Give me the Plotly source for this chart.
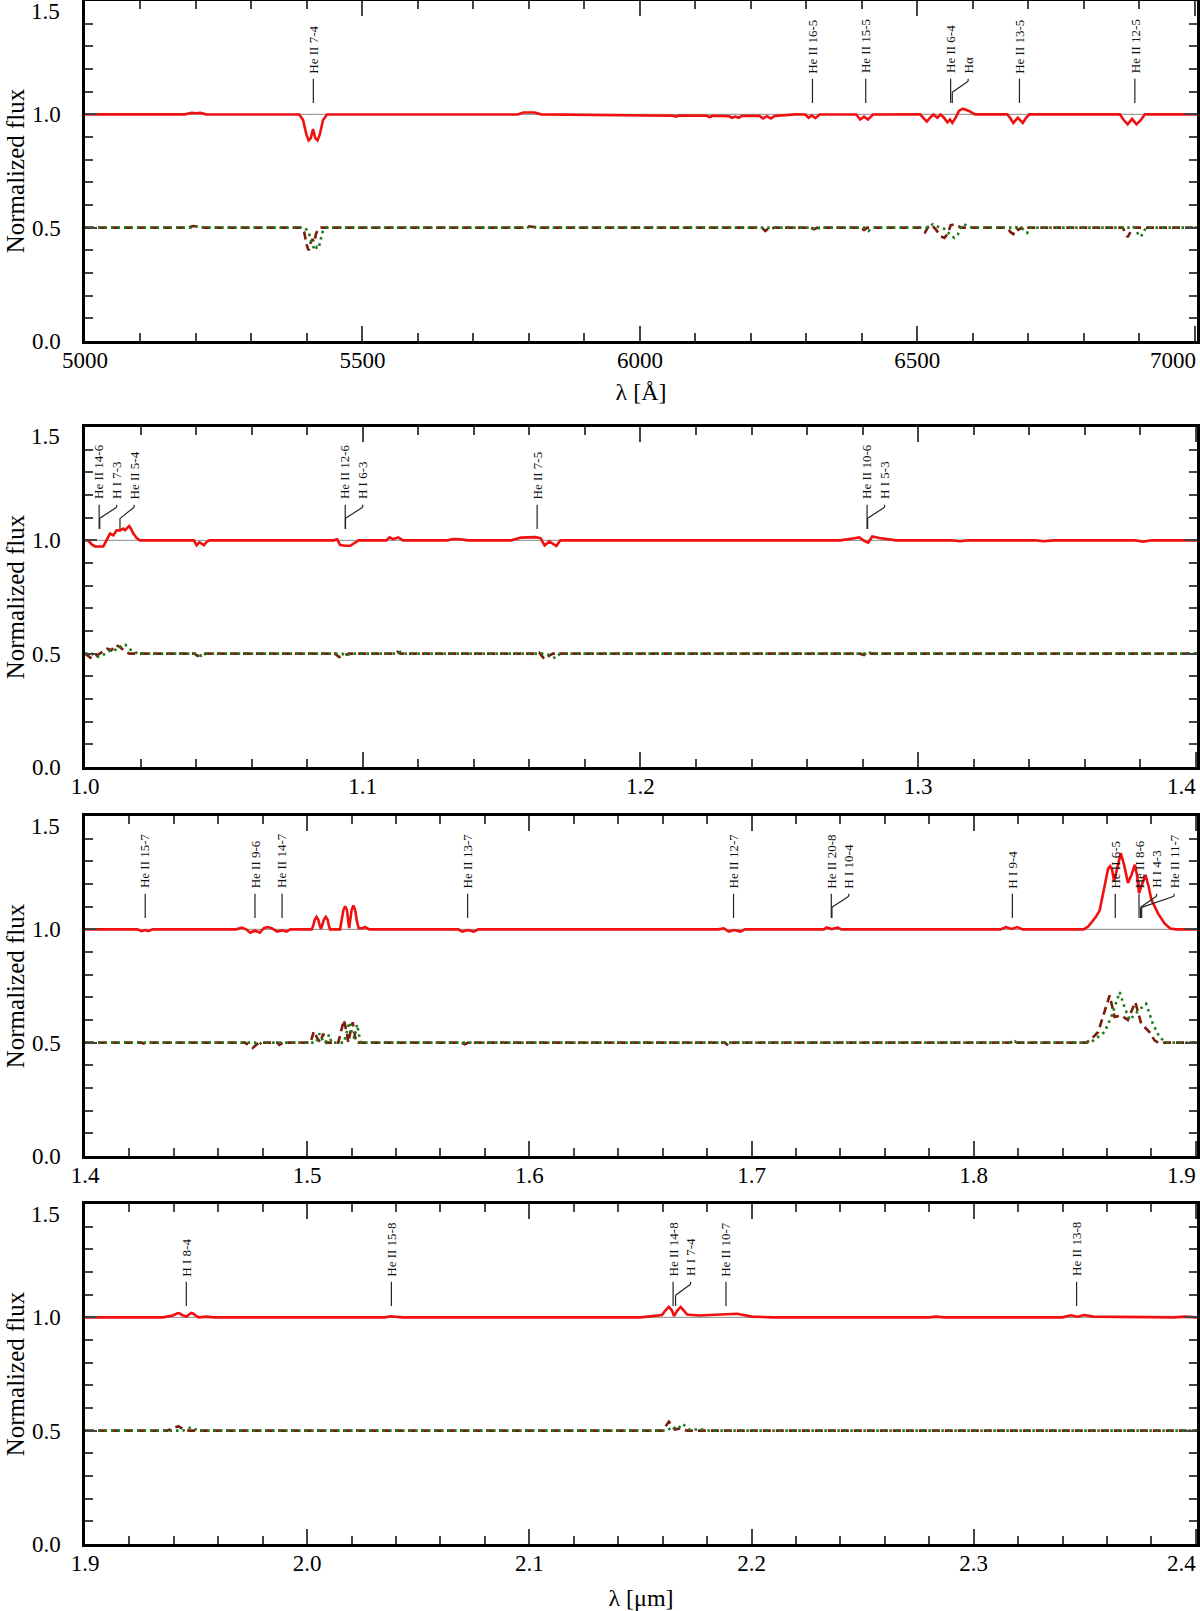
import plotly.graph_objects as go

# ---------------- data ----------------
# Panel 1: optical, wavelength in Angstrom
P1_RED_WAVE = [5000, 5180, 5192, 5200, 5208, 5218, 5386, 5393, 5399, 5403, 5407, 5411, 5415, 5419, 5423, 5429, 5436,
               5780, 5790, 5800, 5810, 5822, 5900, 6000, 6060, 6065, 6070, 6120, 6126, 6132, 6160, 6166, 6172, 6178,
               6184, 6215, 6222, 6229, 6236, 6243, 6260, 6280, 6298, 6304, 6310, 6316, 6324, 6390, 6397, 6404, 6411,
               6420, 6505, 6511, 6517, 6523, 6529, 6536, 6542, 6548, 6554, 6559, 6563, 6569, 6575, 6582, 6592, 6604,
               6662, 6667, 6673, 6681, 6690, 6696, 6702, 6865, 6872, 6879, 6887, 6895, 6903, 6910, 7004]
P1_RED_FLUX = [1.0, 1.0, 1.007, 1.005, 1.007, 1.0, 0.999, 0.975, 0.91, 0.885, 0.895, 0.935, 0.895, 0.885, 0.91, 0.975, 0.999,
               0.999, 1.008, 1.007, 1.008, 1.0, 0.997, 0.995, 0.994, 0.99, 0.995, 0.994, 0.988, 0.994, 0.992, 0.985, 0.99, 0.985,
               0.993, 0.994, 0.982, 0.992, 0.982, 0.993, 0.997, 1.0, 0.999, 0.985, 0.995, 0.983, 0.999, 0.999, 0.977, 0.99, 0.977,
               0.999, 1.0, 0.985, 0.968, 0.985, 0.999, 0.985, 0.999, 0.985, 0.965, 0.977, 0.962, 0.985, 1.015, 1.025, 1.016, 1.0,
               1.0, 0.985, 0.962, 0.985, 0.962, 0.985, 1.0, 1.0, 0.975, 0.956, 0.98, 0.956, 0.975, 1.0, 1.0]
P1_BROWN_WAVE = [5000, 5185, 5195, 5205, 5215, 5388, 5395, 5400, 5403, 5406, 5410, 5413, 5416, 5420, 5425, 5790, 5800, 5815,
                 6220, 6226, 6232, 6236, 6242, 6308, 6314, 6320, 6398, 6404, 6410, 6505, 6510, 6514, 6520, 6526, 6534, 6542,
                 6549, 6555, 6560, 6566, 6574, 6580, 6662, 6668, 6673, 6678, 6682, 6688, 6870, 6875, 6879, 6884, 6889, 7004]
P1_BROWN_FLUX = [0.5, 0.5, 0.507, 0.503, 0.5, 0.5, 0.48, 0.42, 0.40, 0.43, 0.45, 0.435, 0.47, 0.495, 0.5, 0.5, 0.506, 0.5,
                 0.5, 0.485, 0.497, 0.492, 0.5, 0.5, 0.493, 0.5, 0.5, 0.49, 0.5, 0.5, 0.492, 0.48, 0.505, 0.512, 0.49, 0.462,
                 0.455, 0.475, 0.51, 0.515, 0.505, 0.5, 0.5, 0.48, 0.472, 0.5, 0.49, 0.5, 0.5, 0.475, 0.458, 0.48, 0.5, 0.5]
P1_GREEN_WAVE = [5000, 5190, 5200, 5210, 5220, 5396, 5403, 5409, 5414, 5418, 5421, 5425, 5429, 5434, 5795, 5805, 5820,
                 6310, 6317, 6324, 6405, 6412, 6419, 6520, 6528, 6536, 6545, 6552, 6560, 6567, 6573, 6578, 6584, 6592,
                 6600, 6688, 6693, 6698, 6703, 6893, 6898, 6903, 6908, 6912, 7004]
P1_GREEN_FLUX = [0.5, 0.5, 0.506, 0.503, 0.5, 0.5, 0.48, 0.43, 0.40, 0.415, 0.41, 0.45, 0.49, 0.5, 0.5, 0.505, 0.5,
                 0.5, 0.488, 0.5, 0.5, 0.485, 0.5, 0.5, 0.515, 0.505, 0.5, 0.49, 0.465, 0.455, 0.47, 0.5, 0.515, 0.505,
                 0.5, 0.5, 0.485, 0.477, 0.5, 0.5, 0.47, 0.46, 0.48, 0.5, 0.5]

# Panel 2: 1.0 - 1.4 micron
P2_RED_WAVE = [1.0, 1.0012, 1.0024, 1.0036, 1.0066, 1.0073, 1.0078, 1.009, 1.0102, 1.0114, 1.0126, 1.0138, 1.0144, 1.0159,
               1.0166, 1.0174, 1.0186, 1.0198,
               1.0392, 1.0402, 1.0412, 1.0428, 1.0438, 1.0448, 1.0895, 1.0908, 1.0918, 1.0935, 1.0955, 1.0968, 1.0985,
               1.1085, 1.1097, 1.1108, 1.1128, 1.1145, 1.1305, 1.1325, 1.135, 1.138, 1.1535, 1.157, 1.162, 1.164, 1.1655,
               1.1672, 1.1697, 1.1712, 1.272, 1.2765, 1.2788, 1.2805, 1.282, 1.2835, 1.286, 1.292, 1.312, 1.315, 1.318,
               1.342, 1.345, 1.349, 1.378, 1.381, 1.384, 1.4004]
P2_RED_FLUX = [1.0, 1.0, 0.982, 0.973, 0.973, 0.99, 1.0, 1.03, 1.022, 1.044, 1.044, 1.052, 1.045, 1.063,
               1.05, 1.03, 1.01, 1.0,
               1.0, 0.978, 0.992, 0.978, 0.993, 1.0, 1.0, 1.005, 0.98, 0.976, 0.976, 0.985, 1.0,
               1.0, 1.013, 1.005, 1.013, 1.0, 1.0, 1.006, 1.005, 1.0, 1.0, 1.012, 1.014, 1.01, 0.977,
               0.995, 0.975, 1.0, 1.0, 1.008, 1.013, 0.998, 0.99, 1.017, 1.01, 1.0, 1.0, 0.996, 1.0,
               1.0, 0.996, 1.0, 1.0, 0.994, 1.0, 1.0]
P2_BROWN_WAVE = [1.0, 1.0012, 1.0025, 1.004, 1.0065, 1.008, 1.0095, 1.011, 1.0125, 1.0145, 1.016, 1.0395, 1.0405, 1.042,
                 1.0435, 1.09, 1.0915, 1.093, 1.095, 1.1115, 1.1125, 1.1135, 1.162, 1.1635, 1.1655, 1.167, 1.1685,
                 1.279, 1.2805, 1.2818, 1.283, 1.4004]
P2_BROWN_FLUX = [0.5, 0.49, 0.478, 0.49, 0.51, 0.522, 0.515, 0.538, 0.53, 0.51, 0.5, 0.5, 0.49, 0.495,
                 0.5, 0.5, 0.485, 0.49, 0.5, 0.5, 0.508, 0.5, 0.5, 0.505, 0.475, 0.49, 0.5,
                 0.5, 0.494, 0.508, 0.5, 0.5]
P2_GREEN_WAVE = [1.0, 1.0025, 1.004, 1.006, 1.0085, 1.01, 1.0115, 1.013, 1.0145, 1.016, 1.0175, 1.019, 1.0405, 1.042,
                 1.0435, 1.0925, 1.094, 1.0955, 1.1125, 1.1135, 1.1145, 1.166, 1.168, 1.1695, 1.171, 1.281, 1.2822,
                 1.2835, 1.285, 1.4004]
P2_GREEN_FLUX = [0.5, 0.5, 0.485, 0.49, 0.51, 0.52, 0.515, 0.535, 0.54, 0.52, 0.51, 0.5, 0.5, 0.49,
                 0.5, 0.5, 0.49, 0.5, 0.5, 0.508, 0.5, 0.5, 0.488, 0.48, 0.5, 0.5, 0.508,
                 0.497, 0.5, 0.5]

# Panel 3: 1.4 - 1.9 micron
P3_RED_WAVE = [1.4, 1.4235, 1.4255, 1.427, 1.4285, 1.4305, 1.468, 1.4705, 1.4725, 1.4744, 1.4765, 1.4787, 1.4805, 1.4822,
               1.484, 1.4865, 1.4887, 1.4907, 1.4925, 1.502, 1.5027, 1.5034, 1.5042, 1.505, 1.5057, 1.5062, 1.5067,
               1.5075, 1.5084, 1.5092, 1.5098, 1.5103, 1.5148, 1.5155, 1.5163, 1.5171, 1.5179, 1.5185, 1.5189,
               1.5193, 1.52, 1.5208, 1.5216, 1.5224, 1.5232, 1.525, 1.526, 1.528,
               1.568, 1.5698, 1.5722, 1.575, 1.577, 1.685, 1.6875, 1.6898, 1.6922, 1.695, 1.697, 1.7325, 1.7338,
               1.736, 1.7388, 1.7405, 1.812, 1.8145, 1.817, 1.8196, 1.822, 1.8495, 1.8515, 1.853, 1.855, 1.8567, 1.8582,
               1.8605, 1.8614, 1.8623, 1.8632, 1.8647, 1.8662, 1.8678, 1.8694, 1.871, 1.8725, 1.8735, 1.8744, 1.8758,
               1.8773, 1.8787, 1.88, 1.883, 1.886, 1.8885, 1.891, 1.9005]
P3_RED_FLUX = [1.0, 1.0, 0.992, 0.997, 0.992, 1.0, 1.0, 1.008, 1.0, 0.985, 0.995, 0.985, 1.005, 1.01,
               1.005, 0.99, 0.996, 0.99, 1.0, 1.0, 1.015, 1.042, 1.055, 1.042, 1.015, 1.003, 1.015,
               1.042, 1.055, 1.042, 1.015, 1.0, 1.0, 1.035, 1.085, 1.102, 1.085, 1.035, 1.005,
               1.035, 1.085, 1.105, 1.085, 1.035, 1.005, 1.005, 1.01, 1.0,
               1.0, 0.99, 0.997, 0.99, 1.0, 1.0, 1.004, 0.99, 0.997, 0.99, 1.0, 1.0, 1.008,
               1.001, 1.008, 1.0, 1.0, 1.01, 1.002, 1.01, 1.0, 1.0, 1.012, 1.03, 1.055, 1.084, 1.157,
               1.268, 1.279, 1.262, 1.212, 1.27, 1.336, 1.28, 1.205, 1.24, 1.285, 1.24, 1.16, 1.2,
               1.24, 1.19, 1.13, 1.069, 1.025, 1.004, 1.0, 1.0]
P3_BROWN_WAVE = [1.4, 1.4255, 1.427, 1.4285, 1.472, 1.474, 1.4755, 1.477, 1.4785, 1.4865, 1.4875, 1.489, 1.5015, 1.503,
                 1.5045, 1.506, 1.5072, 1.5085, 1.514, 1.5155, 1.5165, 1.5177, 1.5185, 1.5195, 1.5205, 1.522, 1.5695,
                 1.571, 1.5725, 1.688, 1.6898, 1.6915, 1.8165, 1.8175, 1.8185, 1.8505, 1.8523, 1.856, 1.8589, 1.8612,
                 1.8634, 1.8665, 1.8694, 1.8727, 1.8754, 1.8791, 1.8814, 1.883, 1.9005]
P3_BROWN_FLUX = [0.5, 0.5, 0.494, 0.5, 0.5, 0.485, 0.477, 0.49, 0.5, 0.5, 0.49, 0.5, 0.5, 0.55,
                 0.52, 0.5, 0.54, 0.5, 0.5, 0.56, 0.6, 0.55, 0.5, 0.55, 0.59, 0.5, 0.5,
                 0.493, 0.5, 0.5, 0.485, 0.5, 0.5, 0.507, 0.5, 0.5, 0.51, 0.547, 0.642, 0.709,
                 0.613, 0.62, 0.6, 0.679, 0.584, 0.547, 0.51, 0.5, 0.5]
P3_GREEN_WAVE = [1.4, 1.4765, 1.478, 1.4795, 1.504, 1.5055, 1.507, 1.5085, 1.5098, 1.511, 1.5165, 1.518, 1.519, 1.5202,
                 1.5212, 1.5225, 1.524, 1.8175, 1.8185, 1.8195, 1.8525, 1.8539, 1.8589, 1.8619, 1.8657, 1.8679, 1.8702,
                 1.874, 1.8776, 1.8806, 1.8836, 1.8866, 1.9005]
P3_GREEN_FLUX = [0.5, 0.5, 0.49, 0.5, 0.5, 0.54, 0.51, 0.5, 0.535, 0.5, 0.5, 0.56, 0.59, 0.54,
                 0.52, 0.58, 0.5, 0.5, 0.506, 0.5, 0.5, 0.51, 0.547, 0.613, 0.723, 0.656, 0.6,
                 0.64, 0.672, 0.584, 0.525, 0.5, 0.5]

# Panel 4: 1.9 - 2.4 micron
P4_RED_WAVE = [1.9, 1.935, 1.9395, 1.9408, 1.9418, 1.9428, 1.9437, 1.9456, 1.9467, 1.9478, 1.9488, 1.9495, 1.9512, 1.9547,
               1.958, 2.035, 2.0375, 2.04, 2.043, 2.15, 2.1553, 2.1597, 2.1612, 2.1628, 2.1642, 2.1651, 2.1666, 2.1681,
               2.1695, 2.171, 2.1763, 2.18, 2.1875, 2.1934, 2.2002,
               2.21, 2.28, 2.283, 2.287, 2.34, 2.3437, 2.3467, 2.3497, 2.354, 2.39, 2.395, 2.4, 2.4005]
P4_RED_FLUX = [1.0, 1.0, 1.008, 1.016, 1.019, 1.016, 1.01, 1.003, 1.01, 1.019, 1.016, 1.01, 1.0, 1.003,
               1.0, 1.0, 1.005, 1.003, 1.0, 1.0, 1.004, 1.01, 1.03, 1.046, 1.03, 1.006, 1.03, 1.046,
               1.03, 1.012, 1.008, 1.01, 1.012, 1.016, 1.003,
               1.0, 1.0, 1.003, 1.0, 1.0, 1.009, 1.003, 1.01, 1.003, 1.0, 1.003, 1.0, 1.0]
P4_BROWN_WAVE = [1.9, 1.937, 1.942, 1.9445, 1.947, 2.16, 2.1628, 2.1655, 2.168, 2.171, 2.4005]
P4_BROWN_FLUX = [0.5, 0.5, 0.52, 0.505, 0.5, 0.5, 0.54, 0.505, 0.51, 0.5, 0.5]
P4_GREEN_WAVE = [1.9, 1.944, 1.9478, 1.9505, 1.952, 2.162, 2.1645, 2.1665, 2.169, 2.172, 2.1785, 2.181, 2.4005]
P4_GREEN_FLUX = [0.5, 0.5, 0.515, 0.502, 0.5, 0.5, 0.518, 0.505, 0.53, 0.505, 0.505, 0.5, 0.5]

# Line identifications (slot > 0: label shifted right next to the previous one)
P1_LABELS = ["He II 7-4", "He II 16-5", "He II 15-5", "He II 6-4", "Hα", "He II 13-5", "He II 12-5"]
P1_LABEL_WAVE = [5411.5, 6311, 6407, 6560, 6563, 6684, 6892]
P1_LABEL_SLOT = [0, 0, 0, 0, 1, 0, 0]
P2_LABELS = ["He II 14-6", "H I 7-3", "He II 5-4", "He II 12-6", "H I 6-3", "He II 7-5", "He II 10-6", "H I 5-3"]
P2_LABEL_WAVE = [1.0051, 1.0053, 1.0126, 1.0937, 1.0938, 1.1628, 1.2816, 1.2818]
P2_LABEL_SLOT = [0, 1, 2, 0, 1, 0, 0, 1]
P3_LABELS = ["He II 15-7", "He II 9-6", "He II 14-7", "He II 13-7", "He II 12-7", "He II 20-8", "H I 10-4", "H I 9-4",
             "He II 6-5", "He II 8-6", "H I 4-3", "He II 11-7"]
P3_LABEL_WAVE = [1.4271, 1.4765, 1.4887, 1.5722, 1.6919, 1.7359, 1.7362, 1.8174, 1.8637, 1.8744, 1.8751, 1.8756]
P3_LABEL_SLOT = [0, 0, 0, 0, 0, 0, 1, 0, 0, 0, 1, 2]
P4_LABELS = ["H I 8-4", "He II 15-8", "He II 14-8", "H I 7-4", "He II 10-7", "He II 13-8"]
P4_LABEL_WAVE = [1.9456, 2.0379, 2.1647, 2.1658, 2.1885, 2.3463]
P4_LABEL_SLOT = [0, 0, 0, 1, 0, 0]

# axis ticks
P1_XTICKS = [5000, 5500, 6000, 6500, 7000]
P2_XTICKS = [1.0, 1.1, 1.2, 1.3, 1.4]
P3_XTICKS = [1.4, 1.5, 1.6, 1.7, 1.8, 1.9]
P4_XTICKS = [1.9, 2.0, 2.1, 2.2, 2.3, 2.4]
Y_TICKS = [0.0, 0.5, 1.0, 1.5]

# ---------------- styling ----------------
FONT = "Liberation Serif"
RED = "#f01010"
BROWN = "#7a1c0c"
GREEN = "#1c7a1c"
W, H = 1200, 1611
ML, MR, MT, MB = 85, 3, 1, 67
PLOT_H = H - MT - MB
PANEL_TOPS = [1, 427, 816, 1204]
PANEL_H = 340
LABEL_GAP = 17.5

panels = [
    dict(red=(P1_RED_WAVE, P1_RED_FLUX), brown=(P1_BROWN_WAVE, P1_BROWN_FLUX), green=(P1_GREEN_WAVE, P1_GREEN_FLUX),
         labels=(P1_LABELS, P1_LABEL_WAVE, P1_LABEL_SLOT), xr=[5000, 7004], ticks=P1_XTICKS, minor=100, fmt="{:.0f}",
         title="λ [Å]", tstand=11),
    dict(red=(P2_RED_WAVE, P2_RED_FLUX), brown=(P2_BROWN_WAVE, P2_BROWN_FLUX), green=(P2_GREEN_WAVE, P2_GREEN_FLUX),
         labels=(P2_LABELS, P2_LABEL_WAVE, P2_LABEL_SLOT), xr=[1.0, 1.4004], ticks=P2_XTICKS, minor=0.02, fmt="{:.1f}",
         title=None, tstand=0),
    dict(red=(P3_RED_WAVE, P3_RED_FLUX), brown=(P3_BROWN_WAVE, P3_BROWN_FLUX), green=(P3_GREEN_WAVE, P3_GREEN_FLUX),
         labels=(P3_LABELS, P3_LABEL_WAVE, P3_LABEL_SLOT), xr=[1.4, 1.9005], ticks=P3_XTICKS, minor=0.02, fmt="{:.1f}",
         title=None, tstand=0),
    dict(red=(P4_RED_WAVE, P4_RED_FLUX), brown=(P4_BROWN_WAVE, P4_BROWN_FLUX), green=(P4_GREEN_WAVE, P4_GREEN_FLUX),
         labels=(P4_LABELS, P4_LABEL_WAVE, P4_LABEL_SLOT), xr=[1.9, 2.4005], ticks=P4_XTICKS, minor=0.02, fmt="{:.1f}",
         title="λ [μm]", tstand=16),
]

fig = go.Figure()
shapes = []
annotations = []
layout = {}

for i, p in enumerate(panels, start=1):
    xa = "x" if i == 1 else f"x{i}"
    ya = "y" if i == 1 else f"y{i}"
    xkey = "xaxis" if i == 1 else f"xaxis{i}"
    ykey = "yaxis" if i == 1 else f"yaxis{i}"
    top = PANEL_TOPS[i - 1]
    dom = [(H - MB - (top + PANEL_H)) / PLOT_H, (H - MB - top) / PLOT_H]
    dom = [max(0, dom[0]), min(1, dom[1])]

    fig.add_trace(go.Scatter(x=p["brown"][0], y=p["brown"][1], mode="lines", xaxis=xa, yaxis=ya,
                             line=dict(color=BROWN, width=2.6, dash="8px,5px"),
                             showlegend=False, hoverinfo="skip"))
    fig.add_trace(go.Scatter(x=p["green"][0], y=p["green"][1], mode="lines", xaxis=xa, yaxis=ya,
                             line=dict(color=GREEN, width=2.6, dash="2.5px,4px"),
                             showlegend=False, hoverinfo="skip"))
    fig.add_trace(go.Scatter(x=p["red"][0], y=p["red"][1], mode="lines", xaxis=xa, yaxis=ya,
                             line=dict(color=RED, width=2.6),
                             showlegend=False, hoverinfo="skip"))

    tickfont = dict(family=FONT, size=23, color="black")
    ticktext = [p["fmt"].format(t) for t in p["ticks"]]
    ticktext[-1] = ""
    layout[xkey] = dict(
        domain=[0, 1], anchor=ya, range=p["xr"], tickmode="array", tickvals=p["ticks"], ticktext=ticktext,
        ticks="inside", ticklen=15, tickwidth=1.8, tickcolor="#444", showline=True, linewidth=2.5, linecolor="black",
        mirror="allticks", showgrid=False, zeroline=False, tickfont=tickfont, ticklabelstandoff=-3, automargin=False,
        minor=dict(tick0=p["xr"][0], dtick=p["minor"], ticks="inside", ticklen=8, tickwidth=1.8, tickcolor="#444",
                   showgrid=False),
        title=dict(text=p["title"], font=dict(family=FONT, size=24, color="black"), standoff=p["tstand"])
        if p["title"] else None,
    )
    layout[ykey] = dict(
        domain=dom, anchor=xa, range=[0, 1.5], tickmode="array", tickvals=Y_TICKS,
        ticktext=["{:.1f}".format(t) for t in Y_TICKS[:-1]] + [""],
        ticks="inside", ticklen=12, tickwidth=1.8, tickcolor="#444", showline=True, linewidth=2.5, linecolor="black",
        mirror="allticks", showgrid=False, zeroline=False, tickfont=tickfont, ticklabelstandoff=17, automargin=False,
        minor=dict(tick0=0, dtick=0.1, ticks="inside", ticklen=8, tickwidth=1.8, tickcolor="#444", showgrid=False),
        title=dict(text="Normalized flux", font=dict(family=FONT, size=25, color="black"), standoff=1),
    )

    # shifted tick labels: top "1.5" and right-most x label
    annotations.append(dict(text="{:.1f}".format(Y_TICKS[-1]), xref=f"{xa} domain", yref=ya, x=0, y=Y_TICKS[-1],
                            xanchor="right", yanchor="middle", xshift=-23, yshift=-10, showarrow=False,
                            font=tickfont))
    annotations.append(dict(text=p["fmt"].format(p["ticks"][-1]), xref=f"{xa} domain", yref=f"{ya} domain", x=1, y=0,
                            xanchor="right", yanchor="top", xshift=1, yshift=-5, showarrow=False, font=tickfont))

    # continuum reference line
    shapes.append(dict(type="line", xref=f"{xa} domain", yref=ya, x0=0, x1=1, y0=1.0, y1=1.0, layer="below",
                       line=dict(color="#8a8a8a", width=1)))

    # line identifications
    px_per_unit = (W - ML - MR) / (p["xr"][1] - p["xr"][0])
    names, waves, slots = p["labels"]
    anchor = None
    for name, lam, slot in zip(names, waves, slots):
        if slot == 0:
            anchor = lam
        off = (anchor - lam) * px_per_unit + slot * LABEL_GAP
        annotations.append(dict(text=name, xref=xa, yref=ya, x=anchor, y=1.172, xshift=slot * LABEL_GAP,
                                xanchor="center", yanchor="bottom", textangle=-90, showarrow=False,
                                font=dict(family=FONT, size=13, color="#111")))
        lc = dict(color="#222", width=1.2)
        if slot == 0:
            shapes.append(dict(type="line", xref=xa, yref=ya, xsizemode="pixel", xanchor=lam, x0=0, x1=0,
                               y0=1.05, y1=1.157, line=lc))
        else:
            shapes.append(dict(type="line", xref=xa, yref=ya, xsizemode="pixel", xanchor=lam, x0=0, x1=0,
                               y0=1.05, y1=1.097, line=lc))
            shapes.append(dict(type="line", xref=xa, yref=ya, xsizemode="pixel", xanchor=lam, x0=0, x1=off,
                               y0=1.097, y1=1.146, line=lc))
            shapes.append(dict(type="line", xref=xa, yref=ya, xsizemode="pixel", xanchor=lam, x0=off, x1=off,
                               y0=1.146, y1=1.157, line=lc))

fig.update_layout(
    width=W, height=H, margin=dict(l=ML, r=MR, t=MT, b=MB, autoexpand=False),
    paper_bgcolor="white", plot_bgcolor="white", showlegend=False,
    font=dict(family=FONT, color="black"),
    shapes=shapes, annotations=annotations, **layout,
)

fig.write_html("out.html", config={"displayModeBar": False},
               post_script="document.body.style.margin='0';document.body.style.overflow='hidden';")
